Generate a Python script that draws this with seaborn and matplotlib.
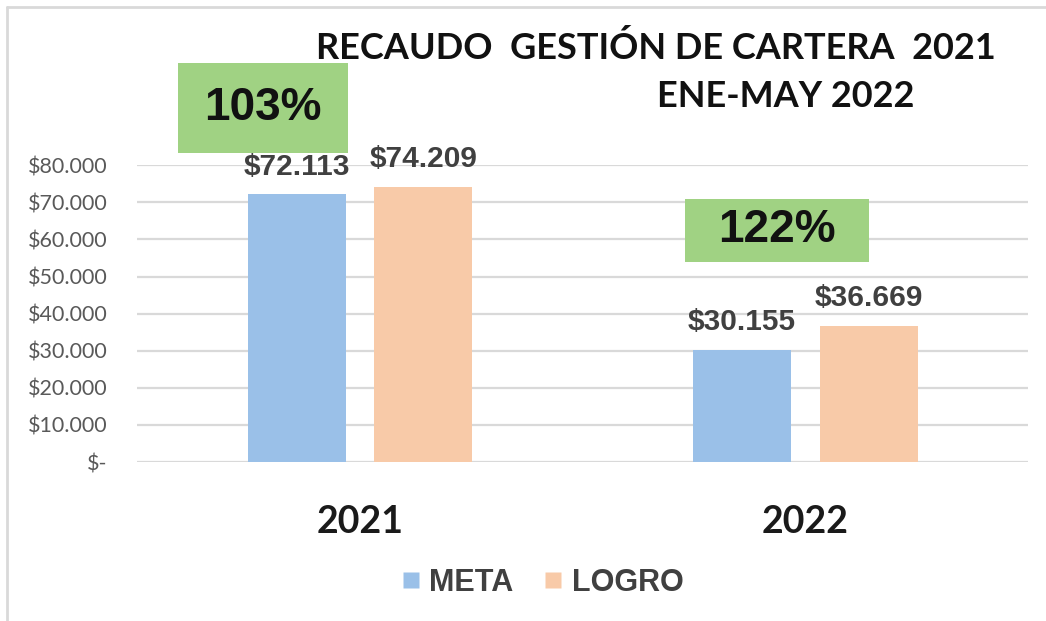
import matplotlib
matplotlib.use('Agg')
import matplotlib.pyplot as plt
from matplotlib.patches import Rectangle
from matplotlib.lines import Line2D
import seaborn as sns
import pandas as pd

# --- data ---
years = ['2021', '2022']
meta = [72113, 30155]
logro = [74209, 36669]
series = ['META', 'LOGRO']
y_ticks = [0, 10000, 20000, 30000, 40000, 50000, 60000, 70000, 80000]

colors = {'META': '#9ac0e8', 'LOGRO': '#f8caa8'}
green = '#a0d283'

df = pd.DataFrame({
    'year': years * 2,
    'serie': ['META'] * len(years) + ['LOGRO'] * len(years),
    'valor': meta + logro,
})

sns.set_style('white')
plt.rcParams['font.family'] = ['Liberation Sans', 'DejaVu Sans']

fig = plt.figure(figsize=(10.46, 6.21), dpi=100)
ax = fig.add_axes([0.131, 0.256, 0.852, 0.478])

sns.barplot(data=df, x='year', y='valor', hue='serie', hue_order=series,
            palette=colors, width=0.568, gap=0.225, ax=ax, legend=False,
            saturation=1, edgecolor='none')

ax.set_xlim(-0.5, 1.5)
ax.set_ylim(0, 80000)
ax.set_yticks(y_ticks)
ax.set_yticklabels(['$-'] + ['${:,}'.format(v).replace(',', '.') for v in y_ticks[1:]],
                   fontfamily='Lato', fontsize=15.5, color='#595959')
ax.set_xticks(range(len(years)))
ax.set_xticklabels(years, fontfamily='Lato', fontweight='bold', fontsize=27, color='#1a1a1a')
ax.tick_params(axis='x', length=0, pad=31)
ax.tick_params(axis='y', length=0, pad=21)
ax.set_xlabel('')
ax.set_ylabel('')
ax.yaxis.grid(True, color='#d9d9d9', linewidth=1.6)
ax.set_axisbelow(True)
for s in ax.spines.values():
    s.set_visible(False)

# percentage boxes (logro / meta), drawn under the value labels
boxes = [(-0.407, 83300, 0.380, 24200), (0.729, 53900, 0.414, 17000)]
for i, (bx, by, bw, bh) in enumerate(boxes):
    pct = round(logro[i] / meta[i] * 100)
    ax.add_patch(Rectangle((bx, by), bw, bh, facecolor=green, edgecolor='none',
                           clip_on=False, zorder=2.5))
    ax.text(bx + bw / 2, by + bh / 2, f'{pct}%', ha='center', va='center',
            fontsize=33, fontweight='bold', color='#111111', zorder=6, clip_on=False)

# value labels above bars
for cont in ax.containers:
    txts = ax.bar_label(cont, labels=['${:,}'.format(int(v)).replace(',', '.') for v in cont.datavalues],
                        padding=10, fontsize=21.5, fontweight='bold', color='#404040')
    for t in txts:
        t.set_zorder(7)

# title
fig.text(0.627, 0.922, 'RECAUDO  GESTIÓN DE CARTERA  2021', ha='center', va='center',
         fontfamily='Lato', fontweight='bold', fontsize=26, color='#111111')
fig.text(0.751, 0.845, 'ENE-MAY 2022', ha='center', va='center',
         fontfamily='Lato', fontweight='bold', fontsize=26, color='#111111')

# legend
handles = [Line2D([], [], marker='s', linestyle='none', markersize=11,
                  markerfacecolor=colors[s], markeredgecolor='none') for s in series]
leg = fig.legend(handles, series, loc='center', bbox_to_anchor=(0.518, 0.061), ncol=2,
                 frameon=False, handlelength=0.7, handletextpad=0.25, columnspacing=0.95,
                 prop={'size': 22, 'weight': 'bold'})
for t in leg.get_texts():
    t.set_color('#404040')

# chart frame
fig.add_artist(Line2D([0.007, 0.007], [0.0, 0.989], color='#d9d9d9', linewidth=2,
                      transform=fig.transFigure))
fig.add_artist(Line2D([0.007, 1.0], [0.989, 0.989], color='#d9d9d9', linewidth=2,
                      transform=fig.transFigure))

fig.savefig('out.png', dpi=100)
